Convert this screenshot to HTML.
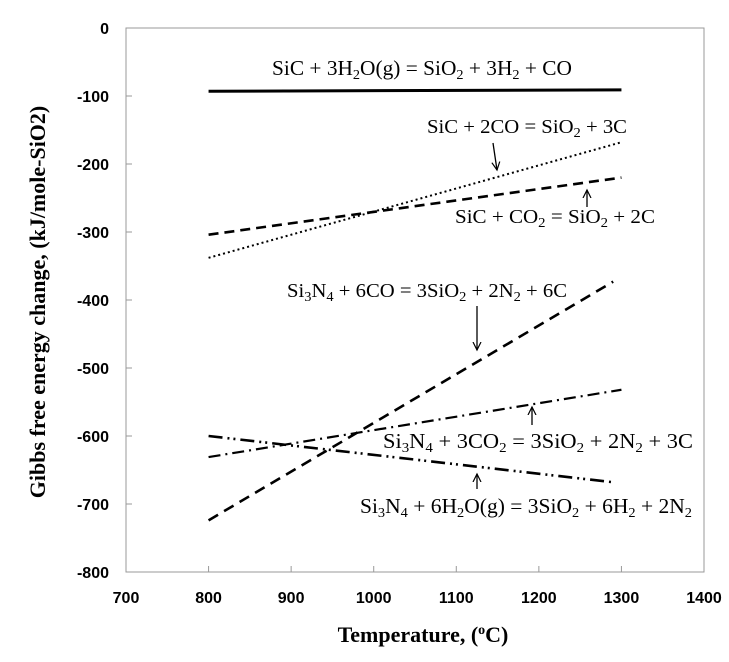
<!DOCTYPE html>
<html><head><meta charset="utf-8"><style>
body{margin:0;background:#fff}
svg text{font-family:"Liberation Serif",serif}
.tk{font-family:"Liberation Sans",sans-serif;font-weight:bold;font-size:16px}
.lb{font-size:20px}
</style></head><body>
<svg id="c" width="729" height="657" xmlns="http://www.w3.org/2000/svg">
<defs><marker id="ah" markerWidth="10" markerHeight="10" refX="8" refY="5" orient="auto" markerUnits="userSpaceOnUse"><path d="M0,1 L8,5 L0,9" fill="none" stroke="#000" stroke-width="1.2"/></marker></defs>
<g id="axes"></g><g id="series"></g>
<g fill="#000">
<text class="lb" style="font-size:21px" x="272" y="75" textLength="300" lengthAdjust="spacingAndGlyphs">SiC + 3H<tspan font-size="14" dy="4">2</tspan><tspan dy="-4">O(g) = SiO</tspan><tspan font-size="14" dy="4">2</tspan><tspan dy="-4"> + 3H</tspan><tspan font-size="14" dy="4">2</tspan><tspan dy="-4"> + CO</tspan></text>
<text class="lb" x="427" y="133" textLength="200" lengthAdjust="spacingAndGlyphs">SiC + 2CO = SiO<tspan font-size="14" dy="4">2</tspan><tspan dy="-4"> + 3C</tspan></text>
<text class="lb" x="455" y="223" textLength="200" lengthAdjust="spacingAndGlyphs">SiC + CO<tspan font-size="14" dy="4">2</tspan><tspan dy="-4"> = SiO</tspan><tspan font-size="14" dy="4">2</tspan><tspan dy="-4"> + 2C</tspan></text>
<text class="lb" x="287" y="297" textLength="280" lengthAdjust="spacingAndGlyphs">Si<tspan font-size="14" dy="4">3</tspan><tspan dy="-4">N</tspan><tspan font-size="14" dy="4">4</tspan><tspan dy="-4"> + 6CO = 3SiO</tspan><tspan font-size="14" dy="4">2</tspan><tspan dy="-4"> + 2N</tspan><tspan font-size="14" dy="4">2</tspan><tspan dy="-4"> + 6C</tspan></text>
<text class="lb" style="font-size:21px" x="383" y="448" textLength="310" lengthAdjust="spacingAndGlyphs">Si<tspan font-size="14" dy="4">3</tspan><tspan dy="-4">N</tspan><tspan font-size="14" dy="4">4</tspan><tspan dy="-4"> + 3CO</tspan><tspan font-size="14" dy="4">2</tspan><tspan dy="-4"> = 3SiO</tspan><tspan font-size="14" dy="4">2</tspan><tspan dy="-4"> + 2N</tspan><tspan font-size="14" dy="4">2</tspan><tspan dy="-4"> + 3C</tspan></text>
<text class="lb" style="font-size:21px" x="360" y="513" textLength="332" lengthAdjust="spacingAndGlyphs">Si<tspan font-size="14" dy="4">3</tspan><tspan dy="-4">N</tspan><tspan font-size="14" dy="4">4</tspan><tspan dy="-4"> + 6H</tspan><tspan font-size="14" dy="4">2</tspan><tspan dy="-4">O(g) = 3SiO</tspan><tspan font-size="14" dy="4">2</tspan><tspan dy="-4"> + 6H</tspan><tspan font-size="14" dy="4">2</tspan><tspan dy="-4"> + 2N</tspan><tspan font-size="14" dy="4">2</tspan></text>
<g stroke="#000" stroke-width="1.3" marker-end="url(#ah)">
<line x1="493" y1="143" x2="497" y2="170"/>
<line x1="587" y1="207" x2="587" y2="190"/>
<line x1="477" y1="306" x2="477" y2="350"/>
<line x1="532" y1="425" x2="532" y2="407"/>
<line x1="477" y1="489" x2="477" y2="474"/>
</g>
<text x="45" y="302" transform="rotate(-90 45 302)" text-anchor="middle" font-weight="bold" font-size="22">Gibbs free energy change, (kJ/mole-SiO2)</text>
<text x="423" y="642" text-anchor="middle" font-weight="bold" font-size="22">Temperature, (<tspan font-size="14" dy="-8">o</tspan><tspan dy="8">C)</tspan></text>
</g>
</svg>
<script>
const xTicks=[700,800,900,1000,1100,1200,1300,1400];
const yTicks=[0,-100,-200,-300,-400,-500,-600,-700,-800];
const seriesNames=["sic-h2o","sic-2co","sic-co2","si3n4-6co","si3n4-3co2","si3n4-h2o"];
const seriesX=[[800,1300],[800,1300],[800,1300],[800,1290],[800,1300],[800,1290]];
const seriesY=[[-93,-91],[-338,-168],[-304,-220],[-724,-373],[-631,-532],[-600,-668]];
const dashes=["","2,3","10,6","11,7","12,5,2,5","14,5,2,4,2,5"];
const widths=[3,2,2.6,2.6,2.2,2.6];
const NS="http://www.w3.org/2000/svg";
const L=126,R=704,T=28,B=572;
const sx=v=>L+(v-700)/700*(R-L);
const sy=v=>T+(0-v)/800*(B-T);
function mk(t,a,p){const e=document.createElementNS(NS,t);for(const k in a)e.setAttribute(k,a[k]);p.appendChild(e);return e;}
const ax=document.getElementById('axes');
let f=mk('rect',{x:L,y:T,width:R-L,height:B-T,fill:'none',stroke:'#999','stroke-width':1},ax);


xTicks.forEach(v=>{
 let l=mk('line',{x1:sx(v),x2:sx(v),y1:B,y2:B-6,stroke:'#999'},ax);
 
 
 let t=mk('text',{x:sx(v),y:B+31,'text-anchor':'middle',class:'tk'},ax);t.textContent=v;
 
 
});
yTicks.forEach(v=>{
 let l=mk('line',{x1:L,x2:L+6,y1:sy(v),y2:sy(v),stroke:'#999'},ax);
 
 
 let t=mk('text',{x:L-17,y:sy(v)+6,'text-anchor':'end',class:'tk'},ax);t.textContent=v;
 
 
});
const sg=document.getElementById('series');
seriesNames.forEach((n,i)=>{
 const pts=seriesX[i].map((x,j)=>sx(x)+','+sy(seriesY[i][j])).join(' ');
 let p=mk('polyline',{points:pts,fill:'none',stroke:'#000','stroke-width':widths[i]},sg);
 if(dashes[i])p.setAttribute('stroke-dasharray',dashes[i]);
 
 
});
</script>
</body></html>
